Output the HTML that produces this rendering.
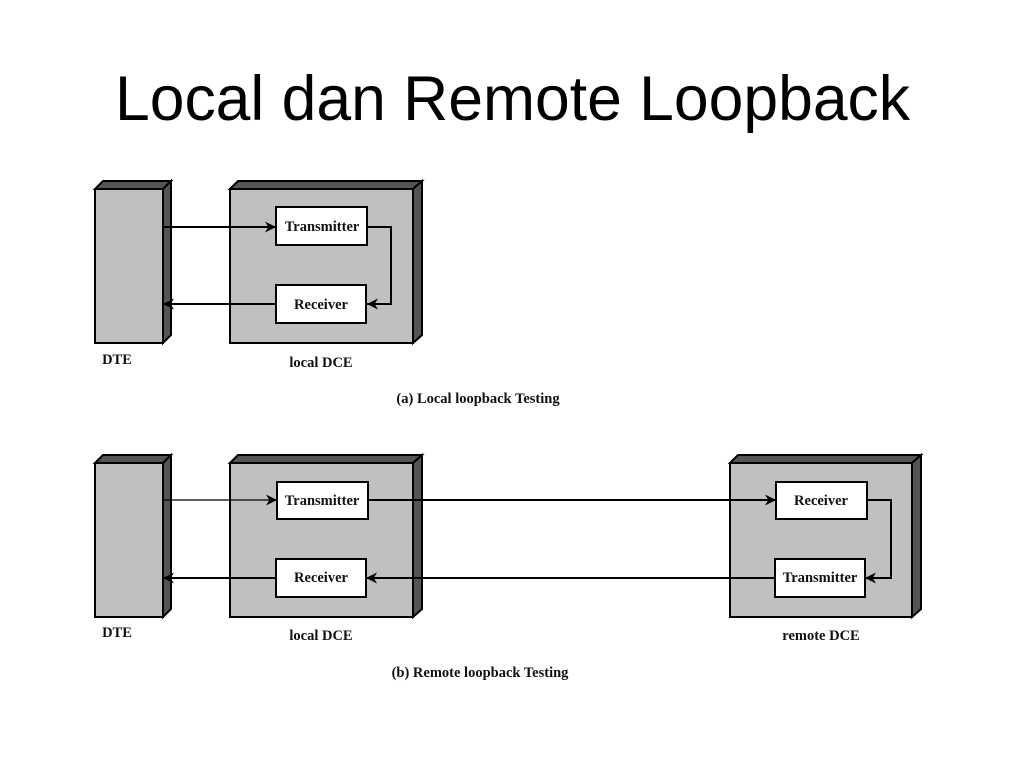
<!DOCTYPE html>
<html><head><meta charset="utf-8"><style>
body{margin:0;background:#fff;width:1024px;height:768px;overflow:hidden}
</style></head><body>
<svg width="1024" height="768" xmlns="http://www.w3.org/2000/svg">
<defs>
<marker id="a" viewBox="0 0 10 10" refX="10" refY="5" markerWidth="11" markerHeight="11" markerUnits="userSpaceOnUse" orient="auto"><path d="M0,0 L10,5 L0,10 L3,5z" fill="#000"/></marker>
</defs>
<text x="115" y="120" textLength="795" lengthAdjust="spacingAndGlyphs" font-family="Liberation Sans, sans-serif" font-size="63">Local dan Remote Loopback</text>
<g stroke="#000" stroke-width="2">
<polygon points="95,189 103,181 171,181 163,189" fill="#555"/>
<polygon points="163,189 171,181 171,335 163,343" fill="#555"/>
<rect x="95" y="189" width="68" height="154" fill="#c0c0c0"/>
<polygon points="230,189 238,181 422,181 413,189" fill="#555"/>
<polygon points="413,189 422,181 422,335 413,343" fill="#555"/>
<rect x="230" y="189" width="183" height="154" fill="#c0c0c0"/>
<rect x="276" y="207" width="91" height="38" fill="#fff"/>
<rect x="276" y="285" width="90" height="38" fill="#fff"/>
<polygon points="95,463 103,455 171,455 163,463" fill="#555"/>
<polygon points="163,463 171,455 171,609 163,617" fill="#555"/>
<rect x="95" y="463" width="68" height="154" fill="#c0c0c0"/>
<polygon points="230,463 238,455 422,455 413,463" fill="#555"/>
<polygon points="413,463 422,455 422,609 413,617" fill="#555"/>
<rect x="230" y="463" width="183" height="154" fill="#c0c0c0"/>
<rect x="277" y="482" width="91" height="37" fill="#fff"/>
<rect x="276" y="559" width="90" height="38" fill="#fff"/>
<polygon points="730,463 738,455 921,455 912,463" fill="#555"/>
<polygon points="912,463 921,455 921,609 912,617" fill="#555"/>
<rect x="730" y="463" width="182" height="154" fill="#c0c0c0"/>
<rect x="776" y="482" width="91" height="37" fill="#fff"/>
<rect x="775" y="559" width="90" height="38" fill="#fff"/>
</g>
<g stroke="#000" stroke-width="2" fill="none">
<line x1="163" y1="227" x2="276" y2="227" marker-end="url(#a)"/>
<polyline points="367,227 391,227 391,304 367,304" marker-end="url(#a)"/>
<line x1="276" y1="304" x2="163" y2="304" marker-end="url(#a)"/>
<line x1="163" y1="500" x2="277" y2="500" stroke-width="1.3" marker-end="url(#a)"/>
<line x1="368" y1="500" x2="776" y2="500" marker-end="url(#a)"/>
<polyline points="867,500 891,500 891,578 865,578" marker-end="url(#a)"/>
<line x1="775" y1="578" x2="366" y2="578" marker-end="url(#a)"/>
<line x1="276" y1="578" x2="163" y2="578" marker-end="url(#a)"/>
</g>
<g font-family="Liberation Serif, serif" font-weight="bold" font-size="14.5" text-anchor="middle" fill="#111">
<text x="322" y="231">Transmitter</text>
<text x="321" y="309">Receiver</text>
<text x="117" y="364">DTE</text>
<text x="321" y="367">local DCE</text>
<text x="478" y="403">(a) Local loopback Testing</text>
<text x="322" y="505">Transmitter</text>
<text x="321" y="582">Receiver</text>
<text x="821" y="505">Receiver</text>
<text x="820" y="582">Transmitter</text>
<text x="117" y="637">DTE</text>
<text x="321" y="640">local DCE</text>
<text x="821" y="640">remote DCE</text>
<text x="480" y="677">(b) Remote loopback Testing</text>
</g>
</svg>
</body></html>
